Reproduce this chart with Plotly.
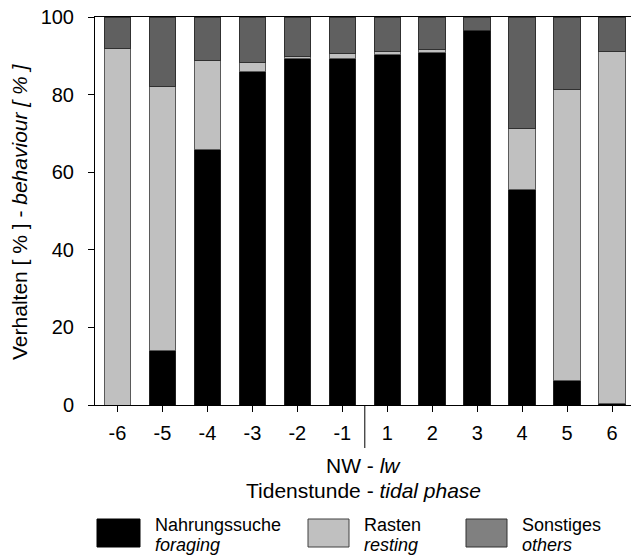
import plotly.graph_objects as go

# ---- data ----
hours = ["-6", "-5", "-4", "-3", "-2", "-1", "1", "2", "3", "4", "5", "6"]
foraging = [0.0, 14.0, 65.8, 85.9, 89.3, 89.4, 90.4, 90.8, 96.6, 55.6, 6.3, 0.3]
resting = [91.8, 68.0, 23.0, 2.5, 0.4, 1.2, 0.7, 0.8, 0.0, 15.6, 75.0, 90.8]
others = [8.2, 18.0, 11.2, 11.6, 10.3, 9.4, 8.9, 8.4, 3.4, 28.8, 18.7, 8.9]

series_names = ["Nahrungssuche", "Rasten", "Sonstiges"]
series_en = ["foraging", "resting", "others"]

# ---- layout geometry (pixels) ----
W, H = 631, 556
L, R, T, B = 95, 0, 17, 151
PW, PH = W - L - R, H - T - B

def px(x):
    return (x - L) / PW

def py(y):
    return (H - B - y) / PH

FONT = "Liberation Sans, Arial, sans-serif"
col_for, col_rest, col_oth = "#000000", "#c0c0c0", "#606060"

fig = go.Figure()
for vals, c, lc, name in [
    (foraging, col_for, "#202020", series_names[0]),
    (resting, col_rest, "#5a5a5a", series_names[1]),
    (others, col_oth, "#303030", series_names[2]),
]:
    fig.add_trace(go.Bar(
        x=hours, y=vals, name=name, width=0.59,
        marker=dict(color=c, line=dict(color=lc, width=1)),
        showlegend=False,
    ))

fig.update_layout(
    width=W, height=H, barmode="stack",
    margin=dict(l=L, r=R, t=T, b=B, pad=0),
    plot_bgcolor="white", paper_bgcolor="white",
    font=dict(family=FONT, color="black", size=20),
)
fig.update_xaxes(
    type="category", range=[-0.5, 11.42],
    showline=True, linecolor="black", linewidth=1, mirror=True,
    ticks="outside", ticklen=6, tickcolor="black",
    tickfont=dict(size=20), showgrid=False, zeroline=False,
    ticklabelstandoff=4,
)
fig.update_yaxes(
    range=[0, 100], tickvals=[0, 20, 40, 60, 80, 100],
    showline=True, linecolor="black", linewidth=1,
    ticks="outside", ticklen=6, tickcolor="black",
    tickfont=dict(size=20), showgrid=False, zeroline=False,
    ticklabelstandoff=10,
)

# divider at low water
fig.add_shape(type="line", xref="x", yref="paper", x0=5.5, x1=5.5,
              y0=0, y1=py(448), line=dict(color="black", width=1))

ann = []
# y title
ann.append(dict(xref="paper", yref="paper", x=px(19), y=py(212),
                text="Verhalten [ % ] - <i>behaviour [ % ]</i>", textangle=-90,
                showarrow=False, xanchor="center", yanchor="middle",
                font=dict(size=21)))
# x titles
ann.append(dict(xref="paper", yref="paper", x=0.5, y=py(466),
                text="NW - <i>lw</i>", showarrow=False,
                xanchor="center", yanchor="middle", font=dict(size=21)))
ann.append(dict(xref="paper", yref="paper", x=0.5, y=py(490),
                text="Tidenstunde - <i>tidal phase</i>", showarrow=False,
                xanchor="center", yanchor="middle", font=dict(size=21)))

# legend (manual)
legend_items = [
    (97, 140, 153, col_for, "#000000"),
    (308, 349, 362, col_rest, "#404040"),
    (466, 507, 520, "#808080", "#303030"),
]
for (x0, x1, tx, fc, lc), nm, en in zip(legend_items, series_names, series_en):
    fig.add_shape(type="rect", xref="paper", yref="paper",
                  x0=px(x0), x1=px(x1), y0=py(547), y1=py(519),
                  fillcolor=fc, line=dict(color=lc, width=1))
    ann.append(dict(xref="paper", yref="paper", x=px(tx), y=py(525),
                    text=nm, showarrow=False, xanchor="left", yanchor="middle",
                    font=dict(size=18)))
    ann.append(dict(xref="paper", yref="paper", x=px(tx), y=py(545),
                    text="<i>" + en + "</i>", showarrow=False, xanchor="left",
                    yanchor="middle", font=dict(size=18)))

fig.update_layout(annotations=ann)
fig.write_html(
    "out.html",
    config={"displayModeBar": False},
    post_script="document.body.style.margin='0';document.body.style.overflow='hidden';",
)
